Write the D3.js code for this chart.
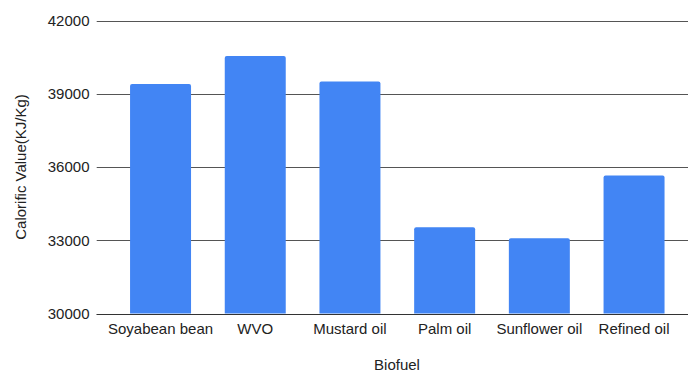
<!DOCTYPE html>
<html>
<head>
<meta charset="utf-8">
<script src="https://cdn.jsdelivr.net/npm/d3@7"></script>
<style>
  html, body { margin: 0; padding: 0; background: #fff; }
  svg { display: block; }
  text { font-family: Arial, "Liberation Sans", sans-serif; fill: #222; }
</style>
</head>
<body>
<svg id="chart" width="688" height="373"></svg>
<script>
// Calorific value of each biofuel (KJ/Kg)
const categories = ["Soyabean bean", "WVO", "Mustard oil", "Palm oil", "Sunflower oil", "Refined oil"];
const values = [39400, 40550, 39500, 33530, 33080, 35650];
const yTicks = [30000, 33000, 36000, 39000, 42000];
const xTitle = "Biofuel";
const yTitle = "Calorific Value(KJ/Kg)";

const svg = d3.select("#chart");
const plotLeft = 96.7, plotRight = 688, plotTop = 20.5, plotBottom = 313.5;

const y = d3.scaleLinear().domain([30000, 42000]).range([plotBottom, plotTop]);
const x = d3.scaleBand()
  .domain(categories)
  .range([113.2, 681.4])
  .paddingInner(0.356)
  .paddingOuter(0.178);

// Horizontal gridlines
svg.append("g")
  .selectAll("line")
  .data(yTicks)
  .join("line")
  .attr("x1", plotLeft)
  .attr("x2", plotRight)
  .attr("y1", d => Math.round(y(d)) + 0.5)
  .attr("y2", d => Math.round(y(d)) + 0.5)
  .attr("stroke", d => d === 30000 ? "#333" : "#555")
  .attr("stroke-width", 1.2);

// Bars with slightly rounded top corners
svg.append("g")
  .selectAll("path")
  .data(values)
  .join("path")
  .attr("fill", "#4285f4")
  .attr("d", (d, i) => {
    const x0 = x(categories[i]), w = x.bandwidth();
    const top = y(d), bot = y(30000), r = 2;
    return `M${x0},${bot} L${x0},${top + r} Q${x0},${top} ${x0 + r},${top}
            L${x0 + w - r},${top} Q${x0 + w},${top} ${x0 + w},${top + r} L${x0 + w},${bot} Z`;
  });

// Redraw the baseline above the bars
svg.append("line")
  .attr("x1", plotLeft).attr("x2", plotRight)
  .attr("y1", Math.round(y(30000)) + 0.5).attr("y2", Math.round(y(30000)) + 0.5)
  .attr("stroke", "#333").attr("stroke-width", 1.2);

// Y tick labels
svg.append("g")
  .selectAll("text")
  .data(yTicks)
  .join("text")
  .attr("x", 89.5)
  .attr("y", d => y(d))
  .attr("dy", "0.35em")
  .attr("text-anchor", "end")
  .attr("font-size", 15)
  .text(d => d);

// X category labels
svg.append("g")
  .selectAll("text")
  .data(categories)
  .join("text")
  .attr("x", d => x(d) + x.bandwidth() / 2)
  .attr("y", 333.5)
  .attr("text-anchor", "middle")
  .attr("font-size", 15)
  .text(d => d);

// Axis titles
svg.append("text")
  .attr("x", 397)
  .attr("y", 370)
  .attr("text-anchor", "middle")
  .attr("font-size", 15)
  .text(xTitle);

svg.append("text")
  .attr("transform", `translate(25.5, ${(plotTop + plotBottom) / 2}) rotate(-90)`)
  .attr("text-anchor", "middle")
  .attr("font-size", 15)
  .text(yTitle);
</script>
</body>
</html>
